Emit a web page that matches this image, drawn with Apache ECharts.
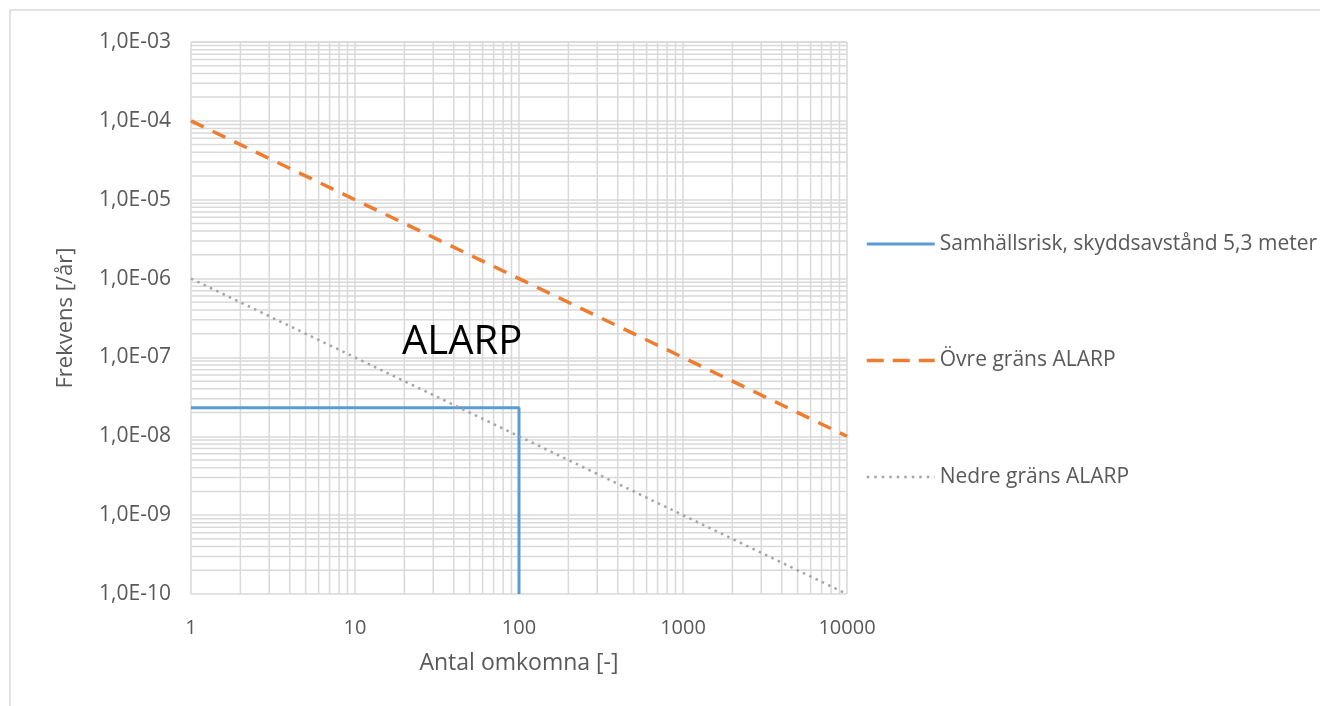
<!DOCTYPE html>
<html>
<head>
<meta charset="utf-8">
<script src="https://cdn.jsdelivr.net/npm/echarts@6/dist/echarts.min.js"></script>
<style>
  html, body { margin: 0; padding: 0; background: #fff; }
  #main { width: 1320px; height: 706px; }
</style>
</head>
<body>
<div id="main"></div>
<script>
// data
var seriesNames = ['Samhällsrisk, skyddsavstånd 5,3 meter', 'Övre gräns ALARP', 'Nedre gräns ALARP'];
var samhallsrisk = [[1, 2.3e-8], [100, 2.3e-8], [100, 1e-10]];
var ovreGrans = [[1, 1e-4], [10000, 1e-8]];
var nedreGrans = [[1, 1e-6], [10000, 1e-10]];
var xMin = 1, xMax = 10000;
var yMin = 1e-10, yMax = 1e-3;

// minor grid values (2..9 in each decade)
var minorX = [], minorY = [];
for (var d = 0; d < 4; d++) {
    for (var k = 2; k <= 9; k++) minorX.push(k * Math.pow(10, d));
}
for (var e = -10; e < -3; e++) {
    for (var k2 = 2; k2 <= 9; k2++) minorY.push(k2 * Math.pow(10, e));
}

var textColor = '#595959';
var gridColor = '#d9d9d9';
var font = 'Open Sans';

var colors = ['#5b9bd5', '#ed7d31', '#a5a5a5'];
var lineTypes = ['solid', [14, 10], [2.5, 4.5]];
var lineWidths = [3, 3.5, 2.5];
var legendTypes = ['solid', [17, 9], [2.5, 5]];

function expLabel(v) {
    var p = Math.round(Math.log10(v));
    var s = p < 0 ? '-' : '+';
    var a = Math.abs(p);
    return '1,0E' + s + (a < 10 ? '0' + a : a);
}

// minor grid lines as broken polylines, drawn through the axes
var hLines = [], vLines = [];
minorY.forEach(function (v) {
    hLines.push([xMin, v], [xMax, v], [xMin, '-']);
});
minorX.forEach(function (v) {
    vLines.push([v, yMin], [v, yMax], ['-', yMin]);
});

function gridSeries(name, data) {
    return {
        name: name,
        type: 'line',
        data: data,
        silent: true,
        showSymbol: false,
        symbol: 'none',
        connectNulls: false,
        lineStyle: { color: gridColor, width: 1.5 },
        z: 0
    };
}

var legendData = seriesNames.map(function (n, i) {
    return {
        name: n,
        itemStyle: { opacity: 0 },
        lineStyle: { width: lineWidths[i], type: legendTypes[i], color: colors[i] }
    };
});

var mainSeries = seriesNames.map(function (n, i) {
    return {
        name: n,
        type: 'line',
        data: [samhallsrisk, ovreGrans, nedreGrans][i],
        showSymbol: false,
        symbol: 'none',
        color: colors[i],
        lineStyle: { color: colors[i], width: lineWidths[i], type: lineTypes[i] },
        z: 5
    };
});

var option = {
    animation: false,
    textStyle: { fontFamily: font },
    graphic: [
        {
            type: 'rect',
            shape: { x: 10, y: 10, width: 1330, height: 720 },
            style: { fill: 'none', stroke: '#d9d9d9', lineWidth: 1.5 },
            z: -10
        },
        {
            type: 'text',
            left: 402, top: 323,
            style: { text: 'ALARP', fill: '#000', font: '40px "Open Sans"' },
            z: 10
        }
    ],
    grid: { left: 191, right: 473, top: 42, bottom: 112 },
    legend: {
        orient: 'vertical',
        left: 860,
        top: 226,
        itemWidth: 68,
        itemHeight: 26,
        itemGap: 90.5,
        textStyle: { color: textColor, fontSize: 21, lineHeight: 26, fontFamily: font },
        data: legendData
    },
    xAxis: {
        type: 'log',
        logBase: 10,
        min: xMin,
        max: xMax,
        name: 'Antal omkomna [-]',
        nameLocation: 'middle',
        nameGap: 58,
        nameTextStyle: { color: textColor, fontSize: 23, fontFamily: font },
        axisLine: { show: false },
        axisTick: { show: false },
        axisLabel: { color: textColor, fontSize: 20, margin: 24, fontFamily: font,
            formatter: function (v) { return String(Math.round(v)); } },
        splitLine: { show: true, lineStyle: { color: gridColor, width: 1.5 } }
    },
    yAxis: {
        type: 'log',
        logBase: 10,
        min: yMin,
        max: yMax,
        name: 'Frekvens [/år]',
        nameLocation: 'middle',
        nameGap: 114,
        nameTextStyle: { color: textColor, fontSize: 22, fontFamily: font },
        axisLine: { show: false },
        axisTick: { show: false },
        axisLabel: { color: textColor, fontSize: 21, margin: 20, fontFamily: font, formatter: expLabel },
        splitLine: { show: true, lineStyle: { color: gridColor, width: 1.5 } }
    },
    series: [gridSeries('grid-h', hLines), gridSeries('grid-v', vLines)].concat(mainSeries)
};

var myChart = echarts.init(document.getElementById('main'));
myChart.setOption(option);
</script>
</body>
</html>
